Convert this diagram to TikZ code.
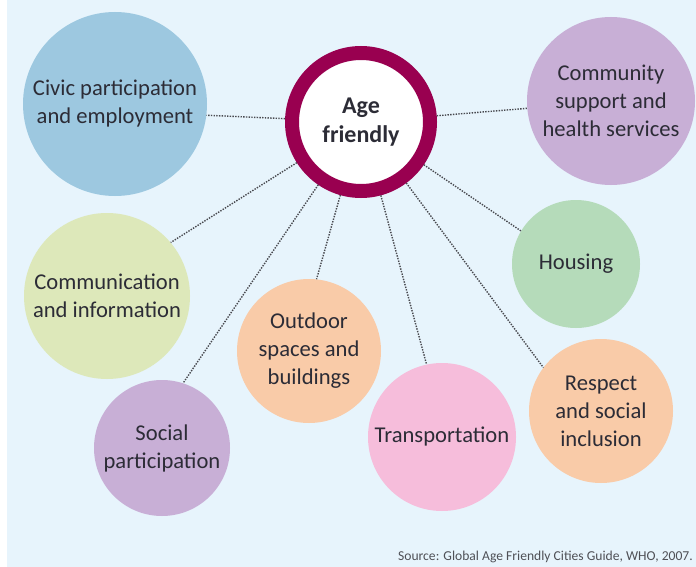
\documentclass[tikz,border=0pt]{standalone}
\usepackage{fontspec}
\setmainfont{Carlito}
\definecolor{bgblue}{HTML}{E7F4FC}
\definecolor{labeltext}{HTML}{2C2C36}
\definecolor{linkgray}{HTML}{48494F}
\definecolor{agering}{HTML}{990050}
\definecolor{civicblue}{HTML}{9DC8E0}
\definecolor{lavender}{HTML}{C8AFD6}
\definecolor{housegreen}{HTML}{B5DBBA}
\definecolor{commgreen}{HTML}{DDE8BA}
\definecolor{peach}{HTML}{F9CBA8}
\definecolor{pink}{HTML}{F6BDDB}
\definecolor{sourcegray}{HTML}{4F5056}
\begin{document}
\begin{tikzpicture}[x=1pt,y=-1pt,
  topic/.style={circle, draw=none, inner sep=0pt, minimum size=#1, align=center,
    font=\fontsize{22.6}{28}\selectfont, text=labeltext},
  link/.style={draw=linkgray, line width=1.4pt, dash pattern=on 1.4pt off 1.3pt}]
  % page and panel
  \fill[white] (0,0) rectangle (696,567);
  \fill[bgblue] (7,0) rectangle (696,567);
  \useasboundingbox (0,0) rectangle (696,567);

  % hub
  \node[circle, fill=white, draw=agering, line width=14pt, minimum size=138pt, inner sep=0pt,
        align=center, font=\fontsize{24}{29}\selectfont\bfseries, text=labeltext]
        (age) at (361,122) {Age\\friendly};

  % topic circles
  \node[topic=184pt, fill=civicblue] (civic) at (115,104) {Civic participation\\and employment};
  \node[topic=168pt, fill=lavender] (community) at (611,101) {Community\\support and\\health services};
  \node[topic=128pt, fill=housegreen] (housing) at (576,264) {Housing};
  \node[topic=166pt, fill=commgreen] (communication) at (107,296) {Communication\\and information};
  \node[topic=136pt, fill=lavender] (social) at (162,448) {Social\\participation};
  \node[topic=144pt, fill=peach] (outdoor) at (309,351) {Outdoor\\spaces and\\buildings};
  \node[topic=148pt, fill=pink] (transport) at (442,437) {Transportation};
  \node[topic=144pt, fill=peach] (respect) at (601,411) {Respect\\and social\\inclusion};

  % dotted connectors from the hub
  \draw[link] (age) -- (civic.-7);
  \draw[link] (age) -- (community.185);
  \draw[link] (age) -- (communication.40);
  \draw[link] (age) -- (social.72);
  \draw[link] (age) -- (outdoor.84);
  \draw[link] (age) -- (transport.102);
  \draw[link] (age) -- (respect.143);
  \draw[link] (age) -- (housing.149);

  % source line
  \node[anchor=base east, inner sep=0pt, font=\fontsize{13.6}{15}\selectfont, text=sourcegray]
    (source) at (693,560) {Source: Global Age Friendly Cities Guide, WHO, 2007.};
\end{tikzpicture}
\end{document}
